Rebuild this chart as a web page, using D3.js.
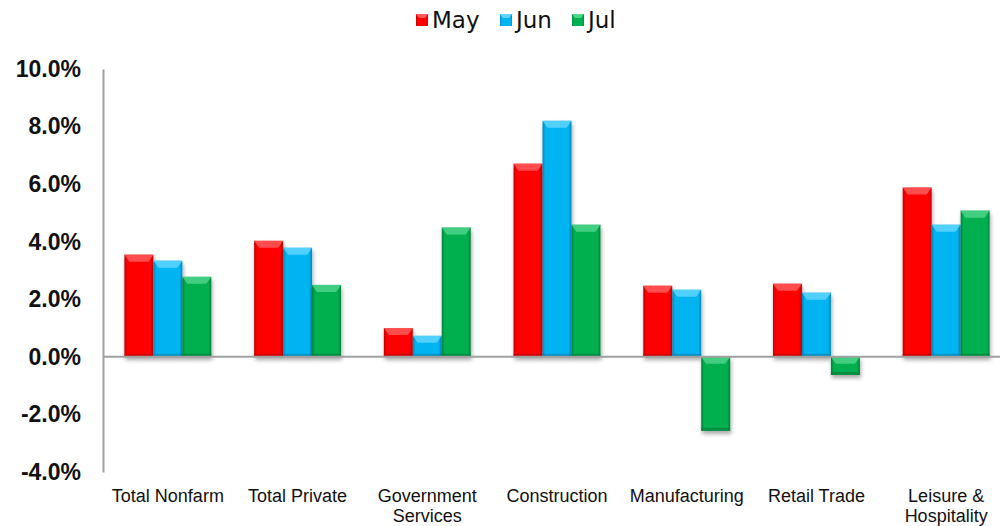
<!DOCTYPE html>
<html>
<head>
<meta charset="utf-8">
<script src="https://cdn.jsdelivr.net/npm/d3@7"></script>
<style>
  body { margin: 0; background: #fff; }
  svg { display: block; }
</style>
</head>
<body>
<svg id="chart" width="1000" height="526"></svg>
<script>
var categories = [['Total Nonfarm'], ['Total Private'], ['Government', 'Services'], ['Construction'],
                  ['Manufacturing'], ['Retail Trade'], ['Leisure &', 'Hospitality']];
var series = ['May', 'Jun', 'Jul'];
var may = [3.55, 4.03, 1.00, 6.71, 2.47, 2.54, 5.88];
var jun = [3.34, 3.79, 0.73, 8.20, 2.33, 2.23, 4.59];
var jul = [2.78, 2.50, 4.49, 4.59, -2.57, -0.63, 5.08];
var yTicks = [-4, -2, 0, 2, 4, 6, 8, 10];

var colors = { May: ['#ff0000', '#ff5a5a', '#c00000'],
               Jun: ['#00b4f2', '#5fd4ff', '#0086b8'],
               Jul: ['#00b050', '#4fd488', '#00803a'] };
var values = { May: may, Jun: jun, Jul: jul };

var svg = d3.select('#chart');
var defs = svg.append('defs');

// drop shadow under the bars
var shadow = defs.append('filter').attr('id', 'shadow')
    .attr('x', '-20%').attr('y', '-20%').attr('width', '150%').attr('height', '150%');
shadow.append('feGaussianBlur').attr('in', 'SourceAlpha').attr('stdDeviation', 2);
shadow.append('feOffset').attr('dx', 1).attr('dy', 3).attr('result', 'b');
shadow.append('feComponentTransfer').append('feFuncA').attr('type', 'linear').attr('slope', 0.35);
var merge = shadow.append('feMerge');
merge.append('feMergeNode');
merge.append('feMergeNode').attr('in', 'SourceGraphic');

series.forEach(function(s){
    var g = defs.append('linearGradient').attr('id', 'grad_' + s)
        .attr('x1', 0).attr('x2', 1).attr('y1', 0).attr('y2', 0);
    g.append('stop').attr('offset', '0%').attr('stop-color', colors[s][2]);
    g.append('stop').attr('offset', '10%').attr('stop-color', colors[s][0]);
    g.append('stop').attr('offset', '90%').attr('stop-color', colors[s][0]);
    g.append('stop').attr('offset', '100%').attr('stop-color', colors[s][2]);
});

var x0 = d3.scaleBand().domain(d3.range(categories.length)).range([103, 1011]).paddingInner(0.33).paddingOuter(0.165);
var x1 = d3.scaleBand().domain(series).range([0, x0.bandwidth()]);
var y = d3.scaleLinear().domain([-4, 10]).range([472, 69]);

// y axis
var yAxis = svg.append('g').attr('transform', 'translate(103,0)')
    .call(d3.axisLeft(y).tickValues(yTicks).tickSize(0).tickPadding(22)
        .tickFormat(function(d){ return d.toFixed(1) + '%'; }));
yAxis.select('.domain').attr('stroke', '#a0a0a0').attr('stroke-width', 2);
yAxis.selectAll('text').attr('font-family', 'Liberation Sans, Arial, sans-serif')
    .attr('font-weight', 'bold').attr('font-size', 23).attr('fill', '#111');

// bars
var groups = svg.append('g').selectAll('g').data(categories).enter().append('g')
    .attr('transform', function(d, i){ return 'translate(' + x0(i) + ',0)'; });

series.forEach(function(s){
    var bar = groups.append('g').attr('filter', 'url(#shadow)');
    bar.append('rect')
        .attr('x', x1(s))
        .attr('width', x1.bandwidth())
        .attr('y', function(d, i){ return y(Math.max(0, values[s][i])); })
        .attr('height', function(d, i){ return Math.abs(y(values[s][i]) - y(0)); })
        .attr('fill', 'url(#grad_' + s + ')');
    // top bevel
    bar.append('path')
        .attr('d', function(d, i){
            var top = y(Math.max(0, values[s][i])), l = x1(s), r = l + x1.bandwidth();
            return 'M' + l + ',' + top + 'L' + r + ',' + top + 'L' + (r - 5) + ',' + (top + 7) +
                   'L' + (l + 5) + ',' + (top + 7) + 'Z';
        })
        .attr('fill', colors[s][1]).attr('opacity', 0.85);
    // bottom edge
    bar.append('rect')
        .attr('x', x1(s))
        .attr('width', x1.bandwidth())
        .attr('y', function(d, i){ return y(Math.min(0, values[s][i])) - 3; })
        .attr('height', 3)
        .attr('fill', colors[s][2]).attr('opacity', 0.7);
});

// zero line
svg.append('line').attr('x1', 103).attr('x2', 1000).attr('y1', y(0)).attr('y2', y(0))
    .attr('stroke', '#a0a0a0').attr('stroke-width', 2);

// category labels
var lab = svg.append('g').selectAll('text').data(categories).enter().append('text')
    .attr('x', function(d, i){ return x0(i) + x0.bandwidth() / 2; })
    .attr('y', 502)
    .attr('text-anchor', 'middle')
    .attr('font-family', 'Liberation Sans, Arial, sans-serif')
    .attr('font-size', 18).attr('fill', '#111');
lab.selectAll('tspan').data(function(d){ return d; }).enter().append('tspan')
    .attr('x', function(){ return this.parentNode.getAttribute('x'); })
    .attr('dy', function(d, i){ return i ? 20 : 0; })
    .text(function(d){ return d; });

// legend
var legX = [416, 500, 572];
var leg = svg.append('g').selectAll('g').data(series).enter().append('g')
    .attr('transform', function(d, i){ return 'translate(' + legX[i] + ',14)'; });
leg.append('rect').attr('width', 12).attr('height', 12)
    .attr('fill', function(d){ return 'url(#grad_' + d + ')'; });
leg.append('path').attr('d', 'M0,0L12,0L9,4L3,4Z')
    .attr('fill', function(d){ return colors[d][1]; });
leg.append('text').attr('x', 16).attr('y', 14)
    .attr('font-family', 'DejaVu Sans, Verdana, sans-serif').attr('font-size', 23).attr('fill', '#111')
    .text(function(d){ return d; });
</script>
</body>
</html>
